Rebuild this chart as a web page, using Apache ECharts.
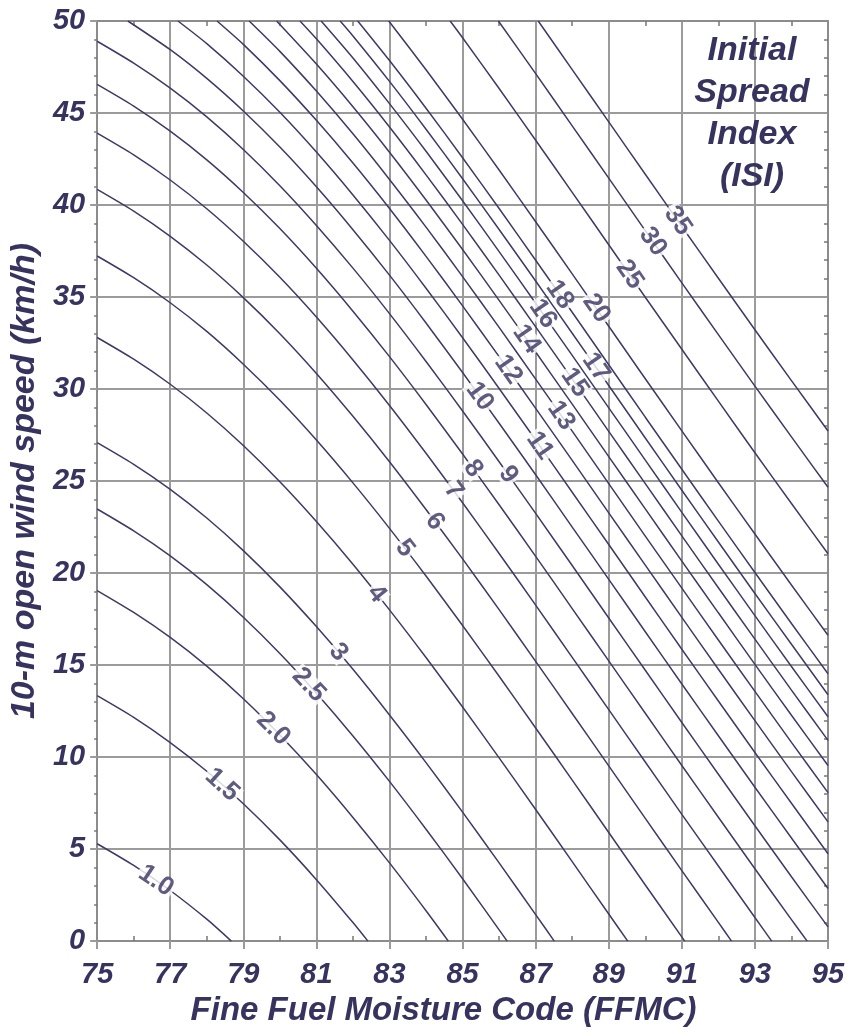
<!DOCTYPE html>
<html>
<head>
<meta charset="utf-8">
<script src="https://cdn.jsdelivr.net/npm/echarts@6/dist/echarts.min.js"></script>
<style>
html,body{margin:0;padding:0;background:#fff;}
#chart{width:851px;height:1032px;}
</style>
</head>
<body>
<div id="chart"></div>
<script>
// ---- data (FFMC, wind speed km/h) ----
const isi1_0 = [[75,5.29],[76,4.11],[77,2.75],[78,1.19],[78.67,0]];
const isi1_5 = [[75,13.34],[76,12.16],[77,10.79],[78,9.23],[79,7.46],[80,5.50],[81,3.34],[82,1.01],[82.41,0]];
const isi2_0 = [[75,19.05],[76,17.86],[77,16.50],[78,14.94],[79,13.17],[80,11.20],[81,9.05],[82,6.72],[83,4.25],[84,1.65],[84.61,0]];
const isi2_5 = [[75,23.48],[76,22.29],[77,20.93],[78,19.37],[79,17.60],[80,15.63],[81,13.47],[82,11.15],[83,8.68],[84,6.08],[85,3.39],[86.22,0]];
const isi3 = [[75,27.09],[76,25.91],[77,24.55],[78,22.99],[79,21.22],[80,19.25],[81,17.09],[82,14.77],[83,12.29],[84,9.70],[85,7.01],[86,4.25],[87,1.44],[87.51,0]];
const isi4 = [[75,32.80],[76,31.62],[77,30.26],[78,28.70],[79,26.93],[80,24.96],[81,22.80],[82,20.48],[83,18.00],[84,15.41],[85,12.72],[86,9.96],[87,7.15],[88,4.32],[89,1.47],[89.52,0]];
const isi5 = [[75,37.23],[76,36.05],[77,34.69],[78,33.13],[79,31.35],[80,29.39],[81,27.23],[82,24.90],[83,22.43],[84,19.84],[85,17.15],[86,14.39],[87,11.58],[88,8.75],[89,5.90],[90,3.05],[91.08,0]];
const isi6 = [[75,40.85],[76,39.67],[77,38.30],[78,36.74],[79,34.97],[80,33.01],[81,30.85],[82,28.52],[83,26.05],[84,23.45],[85,20.77],[86,18.01],[87,15.20],[88,12.37],[89,9.52],[90,6.67],[91,3.83],[92,1.02],[92.36,0]];
const isi7 = [[75,43.91],[76,42.73],[77,41.36],[78,39.80],[79,38.03],[80,36.07],[81,33.91],[82,31.58],[83,29.11],[84,26.51],[85,23.82],[86,21.06],[87,18.26],[88,15.42],[89,12.58],[90,9.73],[91,6.89],[92,4.08],[93,1.28],[93.46,0]];
const isi8 = [[75,46.56],[76,45.38],[77,44.01],[78,42.45],[79,40.68],[80,38.72],[81,36.56],[82,34.23],[83,31.76],[84,29.16],[85,26.47],[86,23.71],[87,20.91],[88,18.07],[89,15.23],[90,12.38],[91,9.54],[92,6.73],[93,3.93],[94,1.17],[94.43,0]];
const isi9 = [[75,48.90],[76,47.71],[77,46.35],[78,44.79],[79,43.02],[80,41.05],[81,38.89],[82,36.57],[83,34.10],[84,31.50],[85,28.81],[86,26.05],[87,23.24],[88,20.41],[89,17.56],[90,14.72],[91,11.88],[92,9.07],[93,6.27],[94,3.50],[95,0.77]];
const isi10 = [[75.84,50],[77,48.44],[78,46.88],[79,45.11],[80,43.15],[81,40.99],[82,38.66],[83,36.19],[84,33.59],[85,30.90],[86,28.14],[87,25.34],[88,22.50],[89,19.66],[90,16.81],[91,13.97],[92,11.16],[93,8.36],[94,5.60],[95,2.86]];
const isi11 = [[77.21,50],[78,48.77],[79,47.00],[80,45.04],[81,42.88],[82,40.55],[83,38.08],[84,35.48],[85,32.79],[86,30.03],[87,27.23],[88,24.39],[89,21.55],[90,18.70],[91,15.86],[92,13.05],[93,10.25],[94,7.49],[95,4.75]];
const isi12 = [[78.28,50],[79,48.73],[80,46.76],[81,44.60],[82,42.28],[83,39.81],[84,37.21],[85,34.52],[86,31.76],[87,28.95],[88,26.12],[89,23.27],[90,20.43],[91,17.59],[92,14.77],[93,11.98],[94,9.21],[95,6.48]];
const isi13 = [[79.16,50],[80,48.35],[81,46.19],[82,43.87],[83,41.39],[84,38.80],[85,36.11],[86,33.35],[87,30.54],[88,27.71],[89,24.86],[90,22.01],[91,19.18],[92,16.36],[93,13.57],[94,10.80],[95,8.07]];
const isi14 = [[79.91,50],[81,47.66],[82,45.34],[83,42.87],[84,40.27],[85,37.58],[86,34.82],[87,32.01],[88,29.18],[89,26.33],[90,23.49],[91,20.65],[92,17.84],[93,15.04],[94,12.27],[95,9.54]];
const isi15 = [[80.55,50],[81,49.03],[82,46.71],[83,44.24],[84,41.64],[85,38.95],[86,36.19],[87,33.38],[88,30.55],[89,27.70],[90,24.86],[91,22.02],[92,19.20],[93,16.41],[94,13.64],[95,10.91]];
const isi16 = [[81.13,50],[82,47.99],[83,45.51],[84,42.92],[85,40.23],[86,37.47],[87,34.66],[88,31.83],[89,28.98],[90,26.14],[91,23.30],[92,20.48],[93,17.69],[94,14.92],[95,12.19]];
const isi17 = [[81.65,50],[82,49.19],[83,46.72],[84,44.12],[85,41.43],[86,38.67],[87,35.87],[88,33.03],[89,30.19],[90,27.34],[91,24.50],[92,21.69],[93,18.89],[94,16.13],[95,13.39]];
const isi18 = [[82.13,50],[83,47.85],[84,45.26],[85,42.57],[86,39.81],[87,37.00],[88,34.17],[89,31.32],[90,28.47],[91,25.64],[92,22.82],[93,20.03],[94,17.26],[95,14.53]];
const isi20 = [[82.98,50],[84,47.35],[85,44.66],[86,41.90],[87,39.09],[88,36.26],[89,33.41],[90,30.56],[91,27.73],[92,24.91],[93,22.12],[94,19.35],[95,16.62]];
const isi25 = [[84.66,50],[85,49.09],[86,46.33],[87,43.52],[88,40.69],[89,37.84],[90,34.99],[91,32.16],[92,29.34],[93,26.54],[94,23.78],[95,21.05]];
const isi30 = [[85.98,50],[87,47.14],[88,44.30],[89,41.46],[90,38.61],[91,35.77],[92,32.96],[93,30.16],[94,27.40],[95,24.66]];
const isi35 = [[87.07,50],[88,47.36],[89,44.52],[90,41.67],[91,38.83],[92,36.02],[93,33.22],[94,30.46],[95,27.72]];

const curves = [isi1_0, isi1_5, isi2_0, isi2_5, isi3, isi4, isi5, isi6, isi7, isi8, isi9, isi10,
                isi11, isi12, isi13, isi14, isi15, isi16, isi17, isi18, isi20, isi25, isi30, isi35];

// curve labels: text, position on curve (FFMC, wind) and slant angle
const labelText  = ['1.0','1.5','2.0','2.5','3','4','5','6','7','8','9','10','11','12','13','14','15','16','17','18','20','25','30','35'];
const labelFFMC  = [76.61,78.42,79.82,80.79,81.60,82.65,83.42,84.24,84.75,85.29,86.25,85.47,87.11,86.25,87.70,86.75,88.07,87.20,88.65,87.66,88.66,89.57,90.21,90.89];
const labelWind  = [3.28,8.49,11.55,13.92,15.70,18.87,21.34,22.81,24.49,25.67,25.35,29.60,26.92,31.06,28.56,32.71,30.35,34.09,31.18,35.13,34.38,36.22,38.01,39.14];
const labelAngle = [34,42,45,47,49,51,52,53,54,54,55,54,55,55,55,55,55,55,55,55,55,55,55,55];

// axis ticks
const xTicks = {min: 75, max: 95, step: 2};
const yTicks = {min: 0, max: 50, step: 5};

const INK = '#37335f';
const GRID = '#9b9b9b';
const FRAME = '#8c8c8c';
const FONT = 'Liberation Sans';

const chart = echarts.init(document.getElementById('chart'), null, {renderer: 'canvas'});

const lineSeries = curves.map(function (c) {
  return {
    type: 'line', data: c, xAxisIndex: 0, yAxisIndex: 0,
    showSymbol: false, symbol: 'none', smooth: 0.25, clip: true, silent: true,
    lineStyle: {color: '#3d3a66', width: 1.5}, z: 2
  };
});

const labelSeries = {
  type: 'scatter', xAxisIndex: 0, yAxisIndex: 0, symbolSize: 0, silent: true, z: 5,
  data: labelText.map(function (t, i) {
    return {name: t, value: [labelFFMC[i], labelWind[i]], label: {rotate: -labelAngle[i]}};
  }),
  label: {
    show: true, position: 'inside', formatter: '{b}',
    fontFamily: FONT, fontSize: 26, fontWeight: 'bold', color: INK,
    backgroundColor: '#ffffff', padding: [0, 2], lineHeight: 21
  }
};

const option = {
  animation: false,
  backgroundColor: '#ffffff',
  title: {
    text: 'Initial\nSpread\nIndex\n(ISI)',
    left: 752, top: 30, padding: 0, textAlign: 'center',
    textStyle: {fontFamily: FONT, fontSize: 34, fontWeight: 'bold', fontStyle: 'italic', color: INK, lineHeight: 42}
  },
  grid: {left: 95, right: 23, top: 21, bottom: 90, containLabel: false},
  xAxis: [
    {
      type: 'value', position: 'bottom', min: xTicks.min, max: xTicks.max, interval: xTicks.step,
      axisLine: {show: true, onZero: false, lineStyle: {color: FRAME, width: 2}},
      axisTick: {show: true, inside: false, length: 8, lineStyle: {color: GRID, width: 2}},
      axisLabel: {show: true, margin: 19, fontFamily: FONT, fontSize: 29, fontWeight: 'bold', fontStyle: 'italic', color: INK},
      splitLine: {show: true, lineStyle: {color: GRID, width: 2}},
      name: 'Fine Fuel Moisture Code (FFMC)', nameLocation: 'middle', nameGap: 31,
      nameTextStyle: {fontFamily: FONT, fontSize: 33, fontWeight: 'bold', fontStyle: 'italic', color: INK, padding: [0, 38, 0, 0]}
    },
    {
      type: 'value', position: 'bottom', min: xTicks.min, max: xTicks.max, interval: xTicks.step,
      axisLine: {show: false, onZero: false},
      axisTick: {show: false, inside: true},
      minorTick: {show: true, splitNumber: 2, length: 5, lineStyle: {color: '#777', width: 1.5}},
      axisLabel: {show: false}, splitLine: {show: false}
    },
    {
      type: 'value', position: 'top', min: xTicks.min, max: xTicks.max, interval: xTicks.step,
      axisLine: {show: true, onZero: false, lineStyle: {color: FRAME, width: 2}},
      axisTick: {show: false, inside: true},
      minorTick: {show: true, splitNumber: 2, length: 5, lineStyle: {color: '#777', width: 1.5}},
      axisLabel: {show: false}, splitLine: {show: false}
    }
  ],
  yAxis: [
    {
      type: 'value', position: 'left', min: yTicks.min, max: yTicks.max, interval: yTicks.step,
      axisLine: {show: true, onZero: false, lineStyle: {color: FRAME, width: 2}},
      axisTick: {show: true, inside: false, length: 7, lineStyle: {color: GRID, width: 2}},
      minorTick: {show: true, splitNumber: 5, length: 3, lineStyle: {color: '#777', width: 1.5}},
      axisLabel: {show: true, margin: 12, fontFamily: FONT, fontSize: 29, fontWeight: 'bold', fontStyle: 'italic', color: INK},
      splitLine: {show: true, lineStyle: {color: GRID, width: 2}},
      name: '10-m open wind speed (km/h)', nameLocation: 'middle', nameGap: 47,
      nameTextStyle: {fontFamily: FONT, fontSize: 34, fontWeight: 'bold', fontStyle: 'italic', color: INK}
    },
    {
      type: 'value', position: 'right', min: yTicks.min, max: yTicks.max, interval: yTicks.step,
      axisLine: {show: true, onZero: false, lineStyle: {color: FRAME, width: 2}},
      axisTick: {show: false, inside: true},
      minorTick: {show: true, splitNumber: 5, length: 4, lineStyle: {color: '#777', width: 1.5}},
      axisLabel: {show: false}, splitLine: {show: false}
    }
  ],
  series: lineSeries.concat([labelSeries])
};

chart.setOption(option);
</script>
</body>
</html>
